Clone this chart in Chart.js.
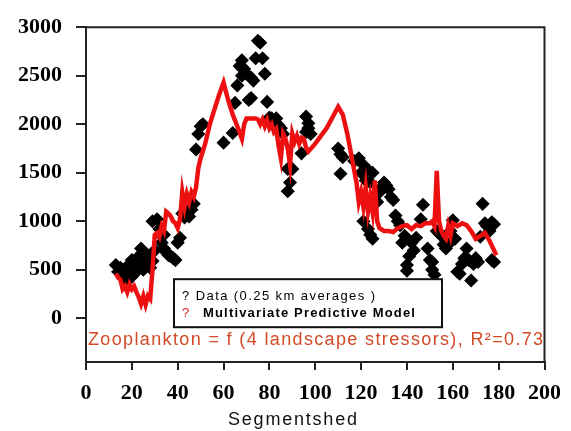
<!DOCTYPE html>
<html><head><meta charset="utf-8">
<script src="https://cdn.jsdelivr.net/npm/chart.js@4.4.1/dist/chart.umd.min.js"></script>
<style>html,body{margin:0;padding:0;background:#fff;overflow:hidden}</style>
</head><body>
<canvas id="c" width="571" height="431" style="width:571px;height:431px;display:block"></canvas>
<script>
// Observed data (0.25 km averages)
const dataX = [13,14,15,16,17,18,18,19,20,20,21,22,22,23,24,24,25,26,27,28,29,30,29,31,32,33,33,34,34,35,36,37,38,39,40,41,42,43,44,45,46,47,48,49,50,51,60,64,65,66,67,68,68,69,70,71,72,72,73,74,75,76,77,78,79,80,81,83,84,85,86,88,88,89,90,94,96,96,97,98,97,110,111,112,111,117,119,120,121,122,123,124,125,121,123,124,125,127,128,129,130,131,132,133,134,135,136,137,138,139,140,140,141,142,143,144,146,147,149,150,151,151,152,153,154,155,156,157,158,159,160,161,162,163,164,165,166,167,168,169,170,171,172,173,174,175,176,177,178,177,178];
const dataY = [550,480,520,430,470,380,520,560,600,430,520,560,480,640,720,580,500,560,650,520,590,700,1000,1020,920,850,780,720,860,680,650,640,620,600,780,830,1080,1040,1100,1050,1120,1180,1740,1900,1980,2000,1810,1910,2220,2400,2600,2660,2500,2570,2520,2250,2270,2480,2450,2680,2860,2840,2680,2520,2230,2070,2060,2060,1990,1960,1900,1540,1310,1400,1540,1700,1920,2080,1960,1900,2010,1750,1690,1660,1490,1620,1650,1500,1580,1420,1530,1400,1500,1000,920,860,820,1200,1300,1350,1400,1370,1330,1250,1220,1060,1000,960,780,850,550,490,640,780,700,830,1020,1170,720,600,500,580,450,900,880,850,760,720,760,900,1010,820,480,460,560,620,720,600,390,560,620,580,840,1180,980,950,900,990,970,600,580];
// Multivariate predictive model
const modelX = [13,14,15,16,17,18,19,20,21,22,23,24,25,26,27,28,29,30,31,32,33,34,35,36,37,38,39,40,41,42,43,44,45,46,47,48,49,50,52,54,56,58,60,62,64,66,68,69,70,72,74,75,76,77,78,79,80,81,82,83,84,85,86,87,88,89,90,91,92,93,94,95,96,97,100,105,110,112,114,116,118,119,120,121,122,123,124,125,126,127,128,130,132,134,136,138,140,142,144,146,148,150,151,152,153,154,155,156,157,158,159,160,162,164,166,168,170,172,174,176,178,179];
const modelY = [460,420,400,300,330,270,350,300,330,270,220,150,230,140,230,200,500,860,880,840,950,900,1100,1080,1050,1000,980,930,1020,1300,1150,1280,1200,1300,1250,1350,1550,1650,1800,2000,2150,2300,2430,2250,2100,1980,1850,2000,2060,2060,2060,2050,2000,2050,1980,2040,1960,2000,1920,1950,1780,1650,1900,1850,1750,1580,1900,1820,1880,1800,1860,1850,1760,1720,1800,1960,2180,2100,1900,1650,1400,1200,1300,1150,1350,1100,1250,1100,1420,1000,930,900,900,890,930,950,960,920,960,950,980,980,1000,950,1520,1000,900,850,820,950,850,980,950,980,960,900,820,850,880,800,700,650];
const xTicks = [0,20,40,60,80,100,120,140,160,180,200];
const yTicks = [0,500,1000,1500,2000,2500,3000];
const xTitle = 'Segmentshed';
const legendLabels = ['Data (0.25 km averages )', 'Multivariate Predictive Model'];
const annotation = 'Zooplankton = f (4 landscape stressors), R\u00B2=0.73';

const scatterPts = dataX.map((x,i)=>({x, y:dataY[i]}));
const modelPts = modelX.map((x,i)=>({x, y:modelY[i]}));

function fitText(ctx, text, x, y, width){
  ctx.letterSpacing = '0px';
  const w = ctx.measureText(text).width;
  const ls = (width - w) / Math.max(1, text.length - 1);
  ctx.letterSpacing = ls.toFixed(2) + 'px';
  ctx.fillText(text, x, y);
  ctx.letterSpacing = '0px';
}

const decor = {
  id: 'decor',
  beforeDatasetsDraw(chart){
    const {ctx, chartArea:a} = chart;
    ctx.save();
    ctx.strokeStyle = '#222';
    ctx.lineWidth = 2;
    ctx.beginPath();
    ctx.moveTo(a.left, a.top); ctx.lineTo(a.right, a.top); ctx.lineTo(a.right, a.bottom);
    ctx.stroke();
    ctx.restore();
  },
  afterDatasetsDraw(chart){
    const {ctx, chartArea:a} = chart;
    ctx.save();
    // legend box
    const bx = a.left + 88, by = a.top + 252, bw = 268, bh = 48;
    ctx.fillStyle = '#fff';
    ctx.fillRect(bx, by, bw, bh);
    ctx.strokeStyle = '#111';
    ctx.lineWidth = 2;
    ctx.strokeRect(bx, by, bw, bh);
    ctx.textBaseline = 'middle';
    ctx.textAlign = 'left';
    ctx.font = '13px "Liberation Sans", Arial, sans-serif';
    ctx.fillStyle = '#000';
    fitText(ctx, '? ' + legendLabels[0], bx + 8, by + 17, 193);
    ctx.fillStyle = '#e02020';
    ctx.fillText('?', bx + 8, by + 34);
    ctx.fillStyle = '#000';
    ctx.font = 'bold 13px "Liberation Sans", Arial, sans-serif';
    fitText(ctx, legendLabels[1], bx + 29, by + 34, 212);
    // annotation
    ctx.font = '18px "Liberation Sans", Arial, sans-serif';
    ctx.fillStyle = '#d24a26';
    fitText(ctx, annotation, a.left + 2, a.bottom - 22, 455);
    // axis title
    ctx.font = '18px "Liberation Sans", Arial, sans-serif';
    ctx.fillStyle = '#111';
    fitText(ctx, xTitle, a.left + 142, a.bottom + 58, 129);
    ctx.restore();
  }
};

new Chart(document.getElementById('c'), {
  type: 'scatter',
  data: {
    datasets: [
      { label: legendLabels[0], data: scatterPts, pointStyle: 'rectRot', pointRadius: 6,
        backgroundColor: '#000', borderColor: '#000', borderWidth: 1.5, order: 2 },
      { label: legendLabels[1], data: modelPts, showLine: true, pointRadius: 0,
        borderColor: 'rgb(236,16,16)', borderWidth: 4.5, tension: 0, order: 1 }
    ]
  },
  options: {
    responsive: false, animation: false, devicePixelRatio: 1,
    layout: { padding: { top: 21, right: 23, left: 0, bottom: 0 } },
    plugins: { legend: { display: false }, tooltip: { enabled: false } },
    scales: {
      x: {
        type: 'linear', min: 0, max: 200,
        afterBuildTicks: s => { s.ticks = xTicks.map(v => ({value: v})); },
        afterFit: s => { s.height = 69; },
        grid: { drawOnChartArea: false, drawTicks: true, tickLength: 8, color: '#222', lineWidth: 2 },
        border: { display: true, color: '#222', width: 2 },
        ticks: { color: '#000', padding: 10, maxRotation: 0, callback: v => String(v),
          font: { family: '"Liberation Serif", "Times New Roman", serif', weight: 'bold', size: 22 } }
      },
      y: {
        type: 'linear', min: -450, max: 3000,
        afterBuildTicks: s => { s.ticks = yTicks.map(v => ({value: v})); },
        afterFit: s => { s.width = 86; },
        grid: { drawOnChartArea: false, drawTicks: true, tickLength: 10, color: '#222', lineWidth: 2 },
        border: { display: true, color: '#222', width: 2 },
        ticks: { color: '#000', padding: 14, callback: v => String(v),
          font: { family: '"Liberation Serif", "Times New Roman", serif', weight: 'bold', size: 22 } }
      }
    }
  },
  plugins: [decor]
});
</script>
</body></html>
